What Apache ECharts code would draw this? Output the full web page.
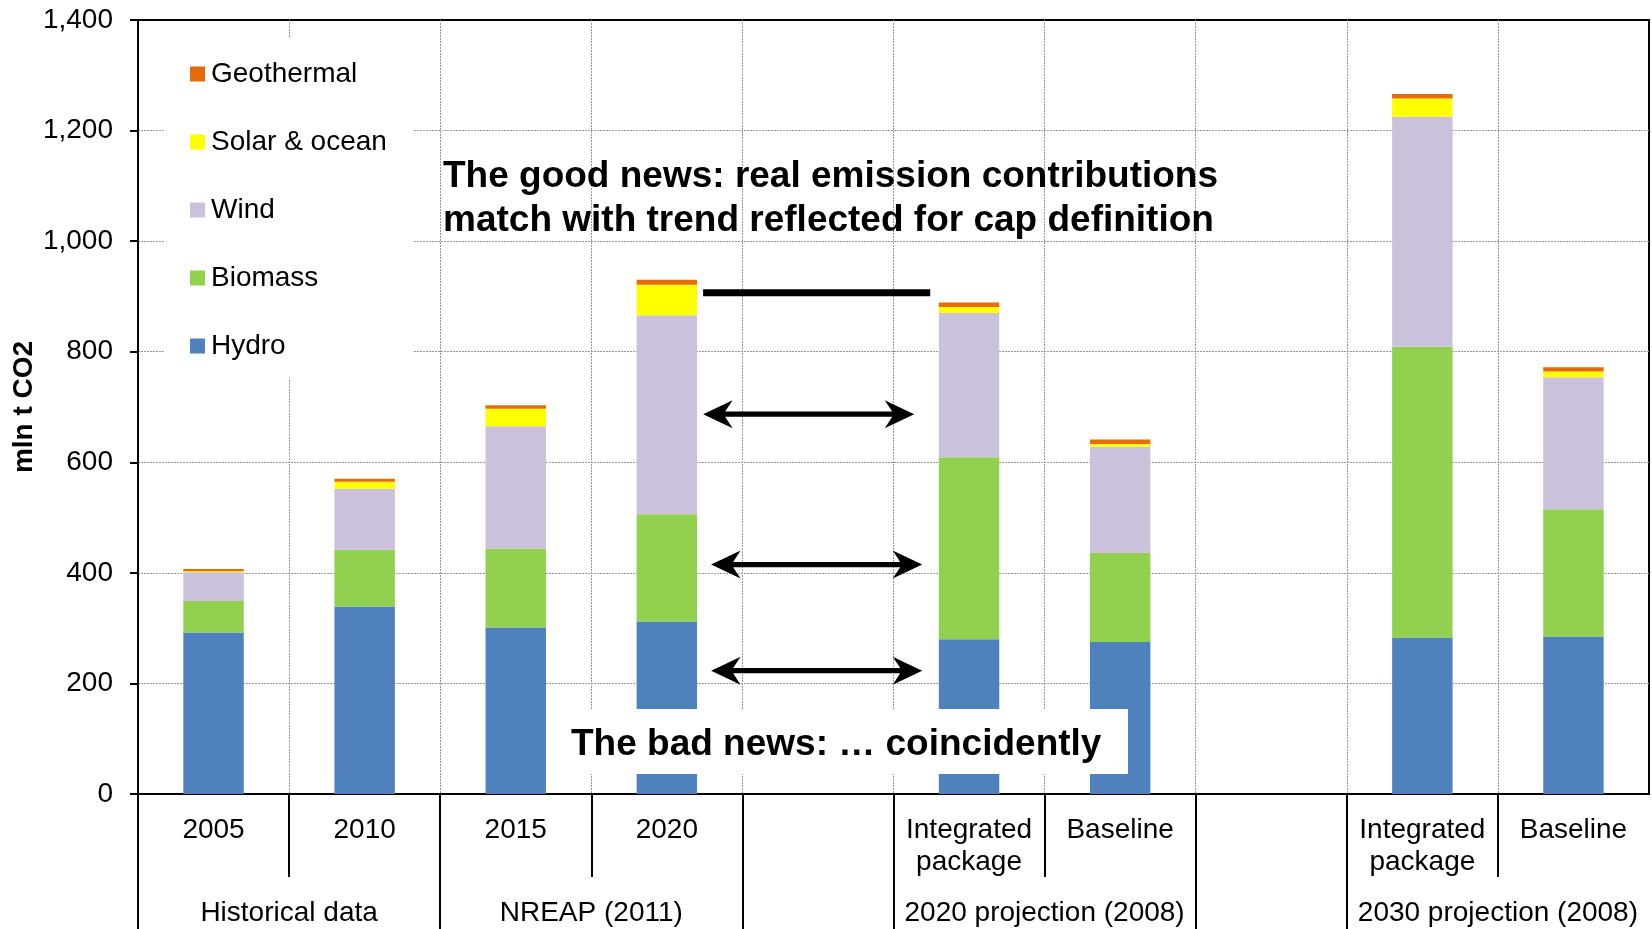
<!DOCTYPE html>
<html>
<head>
<meta charset="utf-8">
<script src="https://cdn.jsdelivr.net/npm/echarts@6/dist/echarts.min.js"></script>
<style>
html,body{margin:0;padding:0;background:#fff;}
#chart{width:1652px;height:929px;}
</style>
</head>
<body>
<div id="chart"></div>
<script>
// ---- data ----
const categories = ['2005', '2010', '2015', '2020', '', 'Integrated\npackage', 'Baseline', '', 'Integrated\npackage', 'Baseline'];
const hydro      = [292, 339, 301, 312, null, 280, 275, null, 283, 285];
const biomass    = [57, 103, 143, 194, null, 329, 161, null, 526, 230];
const wind       = [52, 110, 221, 360, null, 261, 192, null, 416, 239];
const solar      = [2, 13, 32, 55, null, 11, 5, null, 33, 10];
const geothermal = [4, 5, 6, 9, null, 8, 8, null, 8, 8];
const groupLabels = ['Historical data', 'NREAP (2011)', '2020 projection (2008)', '2030 projection (2008)'];
const groupCenters = [1, 3, 6, 9];
const groupTicks = [0, 2, 4, 5, 7, 8];
const innerTicks = [1, 3, 6, 9];
const yTicks = [0, 200, 400, 600, 800, 1000, 1200, 1400];
const legendOrder = ['Geothermal', 'Solar & ocean', 'Wind', 'Biomass', 'Hydro'];
// annotation anchors in data units (x in category units along the axis, y in mln t)
const arrows = [
  {y: 687, x0: 3.74, x1: 5.137},
  {y: 415, x0: 3.793, x1: 5.19},
  {y: 223, x0: 3.793, x1: 5.19}
];
const capLine = {y: 906.7, x0: 3.74, x1: 5.243};

const FONT = 'Liberation Sans, Arial, Helvetica, sans-serif';
const chart = echarts.init(document.getElementById('chart'), null, {renderer: 'canvas'});

function bar(name, data, color) {
  return {
    name: name, type: 'bar', stack: 'total', data: data, barWidth: '40%',
    xAxisIndex: 0, yAxisIndex: 0,
    itemStyle: {color: color}, emphasis: {disabled: true}
  };
}

const option = {
  animation: false,
  backgroundColor: '#fff',
  textStyle: {fontFamily: FONT},
  grid: {left: 138, right: 3, top: 20, bottom: 135, containLabel: false, outerBoundsMode: 'none',
    show: true, borderColor: '#000', borderWidth: 2, backgroundColor: 'transparent'},
  legend: {
    data: legendOrder,
    orient: 'vertical',
    left: 165, top: 38,
    padding: [22, 26, 18, 25],
    backgroundColor: '#fff',
    itemWidth: 15, itemHeight: 15, itemGap: 40,
    icon: 'rect',
    textStyle: {fontFamily: FONT, fontSize: 28, color: '#000', lineHeight: 28, padding: [0, 0, 0, 1]},
    z: 5
  },
  xAxis: [
    {
      type: 'category', data: categories, position: 'bottom', gridIndex: 0,
      axisLine: {show: true, lineStyle: {color: '#000', width: 2}},
      axisTick: {show: false},
      axisLabel: {interval: 0, margin: 20, fontFamily: FONT, fontSize: 28, color: '#000', lineHeight: 32},
      splitLine: {show: true, interval: 0, showMinLine: false, showMaxLine: false, lineStyle: {color: '#999', type: [2, 1], width: 1}}
    },
    {
      type: 'value', min: 0, max: 10, position: 'bottom', gridIndex: 0,
      axisLine: {show: false},
      axisTick: {show: true, customValues: groupTicks, length: 135, lineStyle: {color: '#000', width: 2}},
      axisLabel: {show: true, customValues: groupCenters, margin: 103, fontFamily: FONT, fontSize: 28, color: '#000', lineHeight: 32,
        formatter: function (v) { const i = groupCenters.indexOf(v); return i >= 0 ? groupLabels[i] : ''; }},
      splitLine: {show: false}
    },
    {
      type: 'value', min: 0, max: 10, position: 'bottom', gridIndex: 0,
      axisLine: {show: false},
      axisTick: {show: true, customValues: innerTicks, length: 83, lineStyle: {color: '#000', width: 2}},
      axisLabel: {show: false},
      splitLine: {show: false}
    }
  ],
  yAxis: {
    type: 'value', min: 0, max: 1400, interval: 200,
    name: 'mln t CO2', nameLocation: 'middle', nameRotate: 90, nameGap: 100, nameMoveOverlap: false,
    nameTextStyle: {fontFamily: FONT, fontSize: 28, fontWeight: 'bold', color: '#000'},
    axisLine: {show: true, lineStyle: {color: '#000', width: 2}},
    axisTick: {show: true, length: 8, inside: false, lineStyle: {color: '#000', width: 2}},
    axisLabel: {margin: 25, fontFamily: FONT, fontSize: 28, color: '#000',
      formatter: function (v) { return yTicks.indexOf(v) >= 0 ? v.toLocaleString('en-US') : ''; }},
    splitLine: {show: true, showMinLine: false, showMaxLine: false, lineStyle: {color: '#999', type: [2, 1], width: 1}}
  },
  series: [
    bar('Hydro', hydro, '#4F81BD'),
    bar('Biomass', biomass, '#92D050'),
    bar('Wind', wind, '#CCC1DA'),
    bar('Solar & ocean', solar, '#FFFF00'),
    bar('Geothermal', geothermal, '#E46C0A')
  ]
};
chart.setOption(option);

// ---- annotations, placed through the chart's own scales ----
function px(u) { return chart.convertToPixel({xAxisIndex: 1}, u); }
function py(v) { return chart.convertToPixel({yAxisIndex: 0}, v); }
function doubleArrow(a) {
  const x0 = px(a.x0), x1 = px(a.x1), y = py(a.y);
  const L = 29.5, N = 22, W = 14, T = 2.6;
  return {
    type: 'polygon', z: 20,
    shape: {points: [
      [x0, y], [x0 + L, y - W], [x0 + N, y - T], [x1 - N, y - T], [x1 - L, y - W],
      [x1, y], [x1 - L, y + W], [x1 - N, y + T], [x0 + N, y + T], [x0 + L, y + W]
    ]},
    style: {fill: '#000'}
  };
}
const graphics = arrows.map(doubleArrow);
{
  const x0 = px(capLine.x0), x1 = px(capLine.x1), y = py(capLine.y);
  graphics.push({type: 'rect', z: 20, shape: {x: x0, y: y - 3.5, width: x1 - x0, height: 7}, style: {fill: '#000'}});
}
graphics.push({type: 'text', z: 20, left: 443, top: 155,
  style: {text: 'The good news: real emission contributions\nmatch with trend reflected for cap definition',
    font: 'bold 37px ' + FONT, fill: '#000', lineHeight: 44}});
graphics.push({type: 'rect', z: 30, shape: {x: 547, y: 709, width: 581, height: 65}, style: {fill: '#fff'}});
graphics.push({type: 'text', z: 31, left: 571, top: 726,
  style: {text: 'The bad news: \u2026 coincidently', font: 'bold 37px ' + FONT, fill: '#000'}});
chart.setOption({graphic: graphics});
</script>
</body>
</html>
